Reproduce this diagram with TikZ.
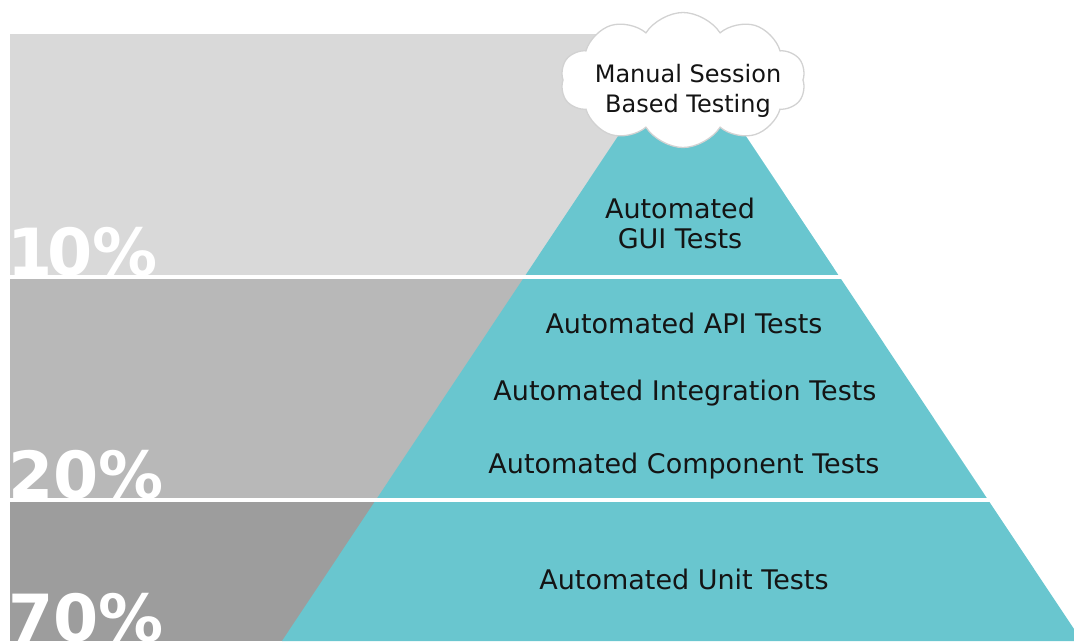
\documentclass[tikz,border=0pt]{standalone}
\usepackage{fontspec}
\setmainfont{DejaVu Sans}
\usetikzlibrary{shapes.symbols}
\definecolor{gA}{HTML}{D9D9D9}
\definecolor{gB}{HTML}{B8B8B8}
\definecolor{gC}{HTML}{9D9D9D}
\definecolor{teal1}{HTML}{69C6CF}
\definecolor{txt}{HTML}{141414}
\definecolor{cloudline}{HTML}{D2D2D2}
\tikzset{
  lbl/.style={text=txt, align=center, inner sep=0pt, font=\fontsize{27}{30}\selectfont},
  cloudlbl/.style={text=txt, align=center, inner sep=0pt, font=\fontsize{24}{30}\selectfont},
  pct/.style={text=white, anchor=base west, inner sep=0pt, font=\fontsize{65}{65}\selectfont\bfseries},
  gap/.style={fill=white, draw=none},
}
\begin{document}
\begin{tikzpicture}[x=1pt,y=-1pt]
\useasboundingbox (0,0) rectangle (1074,641);
\begin{scope}
\clip (0,0) rectangle (1074,641);
% grey bands
\fill[gA] (10,34) rectangle (690,276);
\fill[gB] (10,276) rectangle (690,500);
\fill[gC] (10,500) rectangle (690,641);
% pyramid
\fill[teal1] (682,40) -- (282,641) -- (1082,641) -- cycle;
% percentages
\node[pct] (p10) at (7,275.5) {1\kern-5pt 0\%};
\node[pct] (p20) at (8,498.5) {20\%};
\node[pct] (p70) at (8,641) {70\%};
% white gaps
\fill[gap] (0,274.5) rectangle (1074,279);
\fill[gap] (0,497.5) rectangle (1074,502);
\end{scope}
% cloud
\node[cloud, cloud puffs=10, cloud puff arc=115, aspect=1.8, draw=cloudline, line width=1.3pt, fill=white,
      minimum width=245pt, minimum height=135pt, inner sep=0pt] (cl) at (683,80) {};
\node[cloudlbl] (manual) at (688,91) {Manual Session\\Based Testing};
% labels
\node[lbl] (gui) at (680,223) {Automated\\GUI Tests};
\node[lbl] (api) at (684,323) {Automated API Tests};
\node[lbl] (int) at (685,393) {Automated Integration Tests};
\node[lbl] (comp) at (684,466) {Automated Component Tests};
\node[lbl] (unit) at (684,579) {Automated Unit Tests};
\end{tikzpicture}
\end{document}
